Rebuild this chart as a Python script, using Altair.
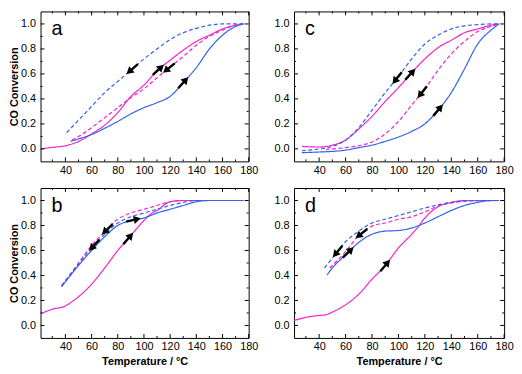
import math
import altair as alt
import numpy as np
import pandas as pd

X_MIN, X_MAX = 21, 180
Y_MIN, Y_MAX = -0.1, 1.1
W_LEFT, W_RIGHT, H = 211, 213, 152
FONT = "Liberation Sans"
MAGENTA = "#F522C8"
BLUE = "#2F62EE"

SERIES = ["heat_m", "cool_m", "heat_b", "cool_b"]
COLORS = [MAGENTA, MAGENTA, BLUE, BLUE]
DASHES = [[1, 0], [4, 2.5], [1, 0], [4, 2.5]]

X_MAJOR = [40, 60, 80, 100, 120, 140, 160, 180]
X_MINOR = [30, 50, 70, 90, 110, 130, 150, 170]
Y_MAJOR = [0.0, 0.2, 0.4, 0.6, 0.8, 1.0]
Y_MINOR = [0.1, 0.3, 0.5, 0.7, 0.9]

# ---------------- panel a ----------------
a_heat_m_T = [21, 30, 40, 50, 60, 70, 80, 90, 100, 110, 120, 130, 140, 150, 160, 170, 176]
a_heat_m_y = [0.0, 0.012, 0.025, 0.06, 0.12, 0.19, 0.29, 0.42, 0.51, 0.625, 0.71, 0.79, 0.86, 0.91, 0.96, 0.99, 1.0]
a_cool_m_T = [45, 50, 60, 70, 80, 90, 100, 110, 120, 130, 140, 150, 160, 170, 176]
a_cool_m_y = [0.07, 0.10, 0.17, 0.25, 0.33, 0.41, 0.48, 0.57, 0.655, 0.74, 0.83, 0.90, 0.95, 0.99, 1.0]
a_heat_b_T = [44, 50, 60, 70, 80, 90, 100, 110, 120, 130, 140, 150, 160, 170, 176]
a_heat_b_y = [0.06, 0.08, 0.115, 0.165, 0.22, 0.28, 0.33, 0.37, 0.42, 0.53, 0.65, 0.80, 0.91, 0.98, 1.0]
a_cool_b_T = [41, 50, 60, 70, 80, 90, 100, 110, 120, 130, 140, 150, 160, 170, 176]
a_cool_b_y = [0.13, 0.23, 0.34, 0.45, 0.54, 0.63, 0.72, 0.80, 0.875, 0.93, 0.965, 0.99, 1.0, 1.0, 1.0]
a_arrows = [("cool_b", 91, "down"), ("heat_m", 111, "up"), ("cool_m", 119, "down"), ("heat_b", 130, "up")]

# ---------------- panel b ----------------
b_heat_m_T = [21, 30, 40, 45, 50, 60, 70, 80, 90, 100, 105, 110, 120, 130, 140, 176]
b_heat_m_y = [0.093, 0.13, 0.156, 0.19, 0.23, 0.33, 0.46, 0.60, 0.72, 0.84, 0.89, 0.92, 0.99, 1.0, 1.0, 1.0]
b_cool_m_T = [37, 40, 50, 60, 70, 80, 90, 100, 110, 120, 130, 176]
b_cool_m_y = [0.32, 0.36, 0.50, 0.64, 0.75, 0.85, 0.90, 0.93, 0.96, 0.99, 1.0, 1.0]
b_heat_b_T = [37, 40, 50, 60, 70, 80, 90, 100, 110, 120, 130, 140, 150, 176]
b_heat_b_y = [0.31, 0.35, 0.48, 0.60, 0.71, 0.80, 0.84, 0.86, 0.90, 0.93, 0.96, 0.99, 1.0, 1.0]
b_cool_b_T = [37, 40, 50, 60, 70, 80, 90, 100, 110, 120, 130, 140, 176]
b_cool_b_y = [0.31, 0.35, 0.49, 0.62, 0.73, 0.82, 0.87, 0.90, 0.93, 0.96, 0.985, 1.0, 1.0]
b_arrows = [("cool_b", 62, "down"), ("cool_m", 72, "down"), ("heat_b", 92, "up"), ("heat_m", 88, "up")]

# ---------------- panel c ----------------
c_heat_m_T = [27, 40, 50, 60, 70, 80, 90, 100, 110, 120, 130, 140, 150, 160, 170, 176]
c_heat_m_y = [0.02, 0.015, 0.03, 0.07, 0.16, 0.26, 0.38, 0.49, 0.61, 0.72, 0.81, 0.87, 0.93, 0.96, 0.99, 1.0]
c_cool_m_T = [45, 50, 60, 70, 80, 90, 100, 110, 120, 130, 140, 150, 160, 170, 176]
c_cool_m_y = [-0.005, 0.0, 0.01, 0.025, 0.055, 0.12, 0.22, 0.35, 0.48, 0.63, 0.76, 0.86, 0.94, 0.98, 1.0]
c_heat_b_T = [27, 40, 50, 60, 70, 80, 90, 100, 110, 120, 130, 140, 150, 160, 170, 176]
c_heat_b_y = [-0.03, -0.025, -0.02, -0.01, 0.01, 0.03, 0.06, 0.095, 0.14, 0.20, 0.31, 0.45, 0.64, 0.84, 0.95, 1.0]
c_cool_b_T = [27, 40, 50, 60, 70, 80, 90, 100, 110, 120, 130, 140, 150, 160, 170, 176]
c_cool_b_y = [-0.015, 0.0, 0.02, 0.07, 0.17, 0.31, 0.45, 0.58, 0.72, 0.84, 0.91, 0.96, 0.985, 0.995, 1.0, 1.0]
c_arrows = [("cool_b", 99, "down"), ("heat_m", 109, "up"), ("cool_m", 118, "down"), ("heat_b", 130, "up")]

# ---------------- panel d ----------------
d_heat_m_T = [21, 30, 40, 45, 50, 60, 70, 80, 90, 100, 110, 115, 120, 130, 140, 150, 176]
d_heat_m_y = [0.04, 0.065, 0.08, 0.085, 0.107, 0.165, 0.25, 0.37, 0.48, 0.62, 0.73, 0.79, 0.86, 0.95, 0.985, 1.0, 1.0]
d_cool_m_T = [48, 60, 70, 80, 90, 100, 110, 120, 130, 140, 150, 176]
d_cool_m_y = [0.46, 0.59, 0.72, 0.795, 0.82, 0.85, 0.87, 0.91, 0.955, 0.98, 0.995, 1.0]
d_heat_b_T = [46, 50, 60, 70, 80, 90, 100, 110, 120, 130, 140, 150, 160, 170, 176]
d_heat_b_y = [0.405, 0.46, 0.565, 0.665, 0.73, 0.755, 0.76, 0.78, 0.82, 0.87, 0.92, 0.96, 0.985, 1.0, 1.0]
d_cool_b_T = [44, 50, 60, 70, 80, 90, 100, 110, 120, 130, 140, 150, 160, 176]
d_cool_b_y = [0.46, 0.54, 0.67, 0.755, 0.82, 0.85, 0.88, 0.91, 0.94, 0.965, 0.985, 0.995, 1.0, 1.0]
d_arrows = [("cool_b", 54, "down"), ("heat_b", 62, "up"), ("cool_m", 72, "down"), ("heat_m", 90, "up")]

PANELS = {
    "a": ({"heat_m": (a_heat_m_T, a_heat_m_y), "cool_m": (a_cool_m_T, a_cool_m_y),
           "heat_b": (a_heat_b_T, a_heat_b_y), "cool_b": (a_cool_b_T, a_cool_b_y)}, a_arrows),
    "b": ({"heat_m": (b_heat_m_T, b_heat_m_y), "cool_m": (b_cool_m_T, b_cool_m_y),
           "heat_b": (b_heat_b_T, b_heat_b_y), "cool_b": (b_cool_b_T, b_cool_b_y)}, b_arrows),
    "c": ({"heat_m": (c_heat_m_T, c_heat_m_y), "cool_m": (c_cool_m_T, c_cool_m_y),
           "heat_b": (c_heat_b_T, c_heat_b_y), "cool_b": (c_cool_b_T, c_cool_b_y)}, c_arrows),
    "d": ({"heat_m": (d_heat_m_T, d_heat_m_y), "cool_m": (d_cool_m_T, d_cool_m_y),
           "heat_b": (d_heat_b_T, d_heat_b_y), "cool_b": (d_cool_b_T, d_cool_b_y)}, d_arrows),
}

ARROW_PATH = "M1,0 L0.05,-0.55 L0.05,-0.16 L-1,-0.16 L-1,0.16 L0.05,0.16 L0.05,0.55 Z"

XS = alt.Scale(domain=[X_MIN, X_MAX], nice=False, zero=False)
YS = alt.Scale(domain=[Y_MIN, Y_MAX], nice=False, zero=False)


def build_panel(letter, width, ytitle, xtitle):
    series, arrows = PANELS[letter]
    rows = []
    for key in SERIES:
        Ts, ys = series[key]
        for t, v in zip(Ts, ys):
            rows.append({"T": t, "y": v, "series": key})
    df = pd.DataFrame(rows)

    sx = width / (X_MAX - X_MIN)
    sy = H / (Y_MAX - Y_MIN)
    arows = []
    for key, t0, direction in arrows:
        Ts, ys = series[key]
        y0 = float(np.interp(t0, Ts, ys))
        y1 = float(np.interp(t0 - 3, Ts, ys))
        y2 = float(np.interp(t0 + 3, Ts, ys))
        th = math.degrees(math.atan2(-(y2 - y1) * sy, 6 * sx))
        if direction == "down":
            th += 180
        arows.append({"T": t0, "y": y0, "angle": th % 360})
    adf = pd.DataFrame(arows)

    x_axis = alt.Axis(values=X_MAJOR, format="d", labelFlush=False, labelPadding=3,
                      title="Temperature / °C" if xtitle else None, titlePadding=4)
    y_axis = alt.Axis(values=Y_MAJOR, format=".1f", labelPadding=5,
                      title="CO Conversion" if ytitle else None, titlePadding=1)

    def X(field):
        return alt.X(field, scale=XS, axis=x_axis)

    def Y(field):
        return alt.Y(field, scale=YS, axis=y_axis)

    lines = alt.Chart(df).mark_line(strokeWidth=1.2, interpolate="monotone", clip=True).encode(
        x=X("T:Q"),
        y=Y("y:Q"),
        color=alt.Color("series:N", scale=alt.Scale(domain=SERIES, range=COLORS), legend=None),
        strokeDash=alt.StrokeDash("series:N", scale=alt.Scale(domain=SERIES, range=DASHES), legend=None),
    )

    layers = [lines]
    for vals, ln in ((X_MAJOR, 4), (X_MINOR, 2)):
        tdf = pd.DataFrame({"T": vals})
        layers.append(alt.Chart(tdf).mark_rule(color="black", strokeWidth=1).encode(
            x=X("T:Q"), y=alt.value(H), y2=alt.value(H - ln)))
        layers.append(alt.Chart(tdf).mark_rule(color="black", strokeWidth=1).encode(
            x=X("T:Q"), y=alt.value(0), y2=alt.value(ln)))
    for vals, ln in ((Y_MAJOR, 4), (Y_MINOR, 2)):
        vdf = pd.DataFrame({"v": vals})
        layers.append(alt.Chart(vdf).mark_rule(color="black", strokeWidth=1).encode(
            y=Y("v:Q"), x=alt.value(0), x2=alt.value(ln)))
        layers.append(alt.Chart(vdf).mark_rule(color="black", strokeWidth=1).encode(
            y=Y("v:Q"), x=alt.value(width), x2=alt.value(width - ln)))

    layers.append(alt.Chart(adf).mark_point(shape=ARROW_PATH, filled=True, color="black",
                                            size=230, opacity=1, strokeWidth=0).encode(
        x=X("T:Q"),
        y=Y("y:Q"),
        angle=alt.Angle("angle:Q", scale=None),
    ))
    layers.append(alt.Chart(pd.DataFrame({"label": [letter]})).mark_text(
        align="left", baseline="alphabetic", fontSize=20, font=FONT, color="black").encode(
        x=alt.value(11), y=alt.value(24), text="label:N"))

    return alt.layer(*layers).properties(width=width, height=H)


top = alt.hconcat(build_panel("a", W_LEFT, True, False), build_panel("c", W_RIGHT, False, False), spacing=15)
bottom = alt.hconcat(build_panel("b", W_LEFT, True, True), build_panel("d", W_RIGHT, False, True), spacing=15)

chart = alt.vconcat(top, bottom, spacing=11).properties(padding=0).configure_view(
    stroke="black", strokeWidth=1
).configure_axis(
    labelFont=FONT, titleFont=FONT, labelFontSize=11, titleFontSize=11,
    titleFontWeight="bold", labelColor="black", titleColor="black",
    grid=False, ticks=False, domain=False,
)

chart.save("out.html", embed_options={"renderer": "svg", "actions": False})
